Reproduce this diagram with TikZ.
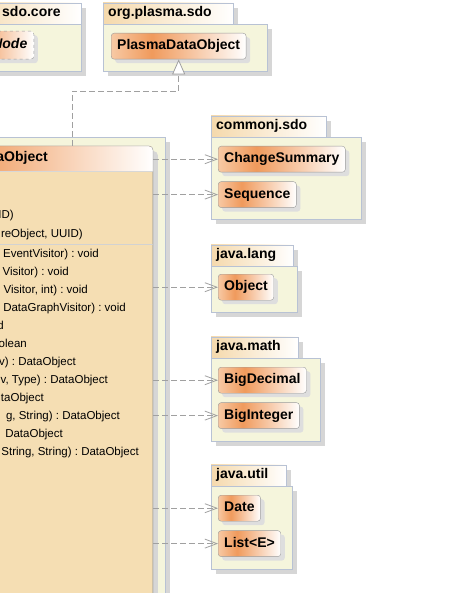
\documentclass[tikz,border=0pt]{standalone}
\usepackage{fontspec}
\setmainfont{Liberation Sans}
\usetikzlibrary{arrows.meta,positioning,shadows}
\definecolor{UMLPkgFill}{HTML}{F5F5DC}
\definecolor{UMLPkgLine}{HTML}{B8C2D4}
\definecolor{UMLTab}{HTML}{F5D9AC}
\definecolor{UMLShadow}{HTML}{D6D6D6}
\definecolor{UMLClsLight}{HTML}{F7C9A4}
\definecolor{UMLClsDark}{HTML}{F09A5C}
\definecolor{UMLClsLine}{HTML}{9A9A9A}
\definecolor{UMLWheat}{HTML}{F5DEB3}
\definecolor{UMLDep}{HTML}{A0A0A0}
\newcommand{\umlbig}{\fontsize{14}{16}\selectfont}
\newcommand{\umlsmall}{\fontsize{11.5}{14}\selectfont}
\frenchspacing
\pgfdeclarehorizontalshading{umlclassfill}{100bp}{color(0bp)=(UMLClsLight); color(25bp)=(UMLClsLight); color(40bp)=(UMLClsDark); color(75bp)=(white); color(100bp)=(white)}
\tikzset{
  umlpkgtab/.style={
    draw=UMLPkgLine,
    left color=UMLTab,
    right color=white,
    anchor=south west,
    align=left,
    inner xsep=5pt,
    inner ysep=0pt,
    minimum height=21pt,
    text height=10pt,
    text depth=3pt,
    font=\bfseries\umlbig,
    drop shadow={shadow xshift=5pt,shadow yshift=-5pt,fill=UMLShadow,opacity=1}
  },
  umlpkgbody/.style={
    draw=UMLPkgLine,
    fill=UMLPkgFill,
    anchor=north west,
    inner sep=0pt,
    drop shadow={shadow xshift=5pt,shadow yshift=-5pt,fill=UMLShadow,opacity=1}
  },
  umlclass/.style={
    draw=UMLClsLine,
    shading=umlclassfill,
    rounded corners=3pt,
    inner xsep=6pt,
    inner ysep=0pt,
    minimum height=26pt,
    text height=10pt,
    text depth=3pt,
    font=\bfseries\umlbig,
    drop shadow={shadow xshift=4pt,shadow yshift=-4pt,fill=UMLShadow!80,opacity=1}
  },
  umlname/.style={inner sep=0pt,text height=10pt,text depth=3pt,font=\bfseries\umlbig},
  umlmember/.style={anchor=east,inner sep=0pt,text height=9pt,text depth=3pt,font=\umlsmall},
  umldep/.style={draw=UMLDep,line width=0.8pt,dash pattern=on 6pt off 3pt,-{Straight Barb[length=12pt,width=9pt]}},
  umlreal/.style={draw=UMLDep,line width=0.8pt,dash pattern=on 6pt off 3pt,-{Triangle[open,length=15pt,width=13pt,fill=white]}}
}

\begin{document}
\begin{tikzpicture}[x=1pt,y=-1pt]
  \fill[white] (0,0) rectangle (462,593);
  \useasboundingbox (0,0) rectangle (462,593);
  \clip (0,0) rectangle (462,593);

  % left side: package of the big class and sdo.core
  \node[umlpkgbody,anchor=north east,minimum width=220pt,minimum height=480pt] (mainpkg) at (165,137) {};
  \node[umlpkgtab,anchor=south east,minimum width=120pt] (coretab) at (81,24) {};
  \node[umlname,anchor=west] (corename) at (2,13.5) {sdo.core};
  \node[umlpkgbody,anchor=north east,minimum width=120pt,minimum height=47pt] (corebody) at (coretab.south east) {};
  \node[umlclass,dashed,anchor=north east,text width=70pt,align=right,inner xsep=6.5pt,minimum height=28pt,
        font=\bfseries\itshape\umlbig] (corenode) at (34,31) {Node};

  % org.plasma.sdo
  \node[umlpkgtab,text width=120pt] (plasmatab) at (103,24) {org.plasma.sdo};
  \node[umlpkgbody,minimum width=164pt,minimum height=47pt] (plasmabody) at (plasmatab.south west) {};
  \node[umlclass,below right=9pt and 8pt of plasmabody.north west] (pdo) {PlasmaDataObject};

  % the big class
  \node[draw=UMLClsLine,fill=UMLWheat,rounded corners=4pt,anchor=north east,minimum width=300pt,minimum height=470pt,
        drop shadow={shadow xshift=5pt,shadow yshift=-5pt,fill=UMLShadow,opacity=1}] (main) at (153,146) {};
  \begin{scope}
    \clip[rounded corners=4pt] (main.south west) rectangle (main.north east);
    \fill[UMLClsDark] (main.north west) rectangle ([yshift=-25pt]main.north east);
    \shade[left color=UMLClsDark,right color=white] ([xshift=-190pt]main.north east) rectangle ([yshift=-25pt]main.north east);
  \end{scope}
  \draw[UMLClsLine!40] ([yshift=-25pt]main.north west) -- ([yshift=-25pt]main.north east);
  \draw[white!55!UMLClsLine] ([yshift=-98pt]main.north west) -- ([yshift=-98pt]main.north east);
  \draw[UMLClsLine,rounded corners=4pt] (main.south west) rectangle (main.north east);

  \node[umlname,anchor=east] (maintitle) at (48,158) {aObject};
  \node[umlmember] (ctor1) at (14,216) {ID)};
  \node[umlmember] (ctor2) at (83,235) {reObject, UUID)};
  \node[umlmember] (op1) at (99,254) {EventVisitor) : void};
  \node[umlmember] (op2) at (69,272) {Visitor) : void};
  \node[umlmember] (op3) at (88,290) {Visitor, int) : void};
  \node[umlmember] (op4) at (126,308) {DataGraphVisitor) : void};
  \node[umlmember] (op5) at (4,326) {d};
  \node[umlmember] (op6) at (27,344) {olean};
  \node[umlmember] (op7) at (76,362) {v) : DataObject};
  \node[umlmember] (op8) at (108,380) {v, Type) : DataObject};
  \node[umlmember] (op9) at (44,398) {taObject};
  \node[umlmember] (op10) at (120,416) {g, String) : DataObject};
  \node[umlmember] (op11) at (63,434) {DataObject};
  \node[umlmember] (op12) at (139,452) {String, String) : DataObject};

  % commonj.sdo
  \node[umlpkgtab,text width=105pt] (cjtab) at (211,137) {commonj.sdo};
  \node[umlpkgbody,minimum width=150pt,minimum height=82pt] (cjbody) at (cjtab.south west) {};
  \node[umlclass,below right=9pt and 7pt of cjbody.north west] (changesum) {ChangeSummary};
  \node[umlclass,below right=9pt and 0pt of changesum.south west] (sequence) {Sequence};

  % java.lang
  \node[umlpkgtab,text width=72pt] (langtab) at (211,266) {java.lang};
  \node[umlpkgbody,minimum width=86pt,minimum height=46pt] (langbody) at (langtab.south west) {};
  \node[umlclass,below right=8pt and 7pt of langbody.north west] (object) {Object};

  % java.math
  \node[umlpkgtab,text width=77pt] (mathtab) at (211,358) {java.math};
  \node[umlpkgbody,minimum width=109pt,minimum height=83pt] (mathbody) at (mathtab.south west) {};
  \node[umlclass,below right=9pt and 7pt of mathbody.north west] (bigdec) {BigDecimal};
  \node[umlclass,below right=9pt and 0pt of bigdec.south west] (bigint) {BigInteger};

  % java.util
  \node[umlpkgtab,text width=65pt] (utiltab) at (211,486) {java.util};
  \node[umlpkgbody,minimum width=81pt,minimum height=83pt] (utilbody) at (utiltab.south west) {};
  \node[umlclass,below right=9pt and 7pt of utilbody.north west] (date) {Date};
  \node[umlclass,below right=9pt and 0pt of date.south west] (list) {List<E>};

  % realization and dependencies
  \coordinate (genbend) at (72,91);
  \draw[umlreal] (main.north -| genbend) -- (genbend) -| (pdo.south);
  \draw[umldep] (main.east |- changesum.west) -- (changesum.west);
  \draw[umldep] (main.east |- sequence.west) -- (sequence.west);
  \draw[umldep] (main.east |- object.west) -- (object.west);
  \draw[umldep] (main.east |- bigdec.west) -- (bigdec.west);
  \draw[umldep] (main.east |- bigint.west) -- (bigint.west);
  \draw[umldep] (main.east |- date.west) -- (date.west);
  \draw[umldep] (main.east |- list.west) -- (list.west);
\end{tikzpicture}
\end{document}
